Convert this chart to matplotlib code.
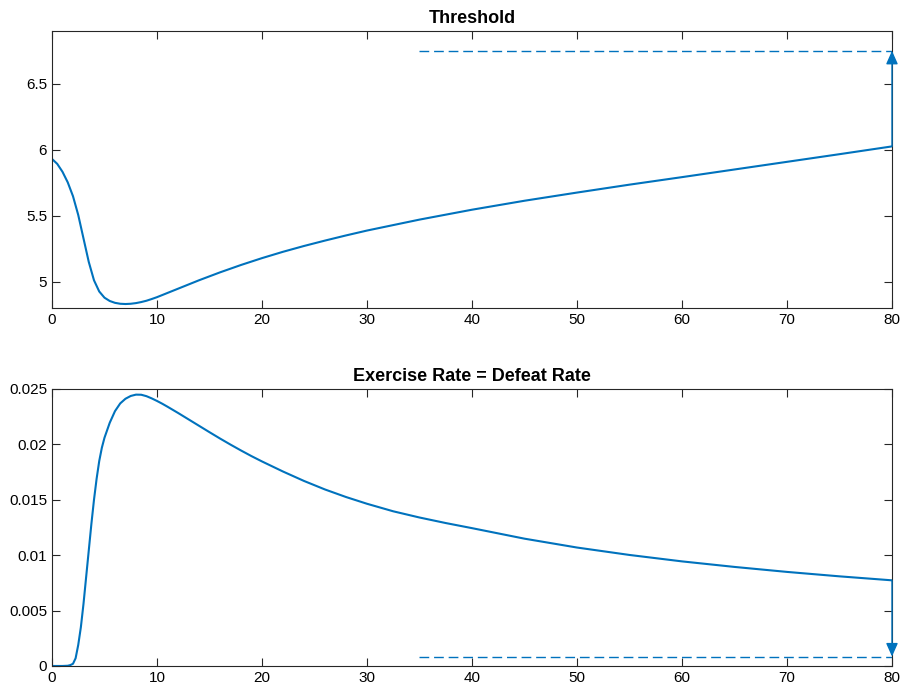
import matplotlib
matplotlib.use("Agg")
import matplotlib.pyplot as plt
from matplotlib.ticker import FuncFormatter

# values
t_thr = [0, 0.5, 1.0, 1.5, 2.0, 2.5, 3.0, 3.5, 4.0, 4.5, 5.0, 5.5, 6.0, 6.5,
         7.0, 7.5, 8.0, 8.5, 9.0, 9.5, 10, 12, 14, 16, 18, 20, 22, 24, 26, 28,
         30, 35, 40, 45, 50, 55, 60, 65, 70, 75, 80]
threshold = [5.93, 5.8925, 5.8325, 5.7525, 5.6475, 5.505, 5.3275, 5.15, 5.01,
             4.925, 4.878, 4.853, 4.839, 4.832, 4.830, 4.832, 4.837, 4.845,
             4.855, 4.868, 4.882, 4.946, 5.01, 5.07, 5.126, 5.178, 5.226,
             5.27, 5.311, 5.35, 5.387, 5.47, 5.545, 5.613, 5.675, 5.735,
             5.792, 5.85, 5.908, 5.966, 6.025]

t_rate = [0, 0.5, 1.0, 1.5, 1.75, 2.0, 2.25, 2.5, 2.75, 3.0, 3.25, 3.5, 3.75,
          4.0, 4.25, 4.5, 4.75, 5.0, 5.5, 6.0, 6.5, 7.0, 7.5, 8.0, 8.5, 9.0,
          9.5, 10, 10.5, 11, 12, 13, 14, 15, 16, 17, 18, 19, 20, 22, 24, 26,
          28, 30, 32.5, 35, 37.5, 40, 45, 50, 55, 60, 65, 70, 75, 80]
rate = [0, 0, 0, 0.00002, 0.00008, 0.0002, 0.0007, 0.0019, 0.0035, 0.0056,
        0.0080, 0.0104, 0.0128, 0.0150, 0.0169, 0.0185, 0.0197, 0.0206,
        0.02195, 0.0230, 0.0237, 0.02412, 0.02437, 0.02449, 0.02448, 0.02435,
        0.02415, 0.02392, 0.02367, 0.0234, 0.02284, 0.02226, 0.02168, 0.0211,
        0.02053, 0.01998, 0.01945, 0.01894, 0.01846, 0.01755, 0.0167,
        0.01593, 0.01525, 0.01464, 0.01396, 0.0134, 0.0129, 0.01244, 0.01149,
        0.01069, 0.01002, 0.00944, 0.00894, 0.00849, 0.00809, 0.00773]

thr_level = 6.75
rate_level = 0.00085
level_start = 35

blue = "#0072BD"
axcol = "#262626"

plt.rcParams["font.family"] = ["Liberation Sans", "DejaVu Sans"]
plt.rcParams["font.size"] = 11

fig = plt.figure(figsize=(9.01, 6.87), dpi=100)
ax1 = fig.add_axes([0.0577, 0.5517, 0.9323, 0.4032])
ax2 = fig.add_axes([0.0577, 0.0306, 0.9323, 0.4032])


def style(ax):
    for s in ax.spines.values():
        s.set_color(axcol)
        s.set_linewidth(0.8)
    ax.tick_params(direction="in", length=5.5, width=0.8, color=axcol,
                   top=True, right=True, labelcolor="black", pad=3.5,
                   labelsize=11)
    ax.set_xlim(0, 80)
    ax.set_xticks(range(0, 81, 10))


# Threshold
ax1.plot(t_thr, threshold, color=blue, lw=1.5)
ax1.plot([level_start, 80], [thr_level, thr_level], color=blue, lw=1,
         dashes=(7, 3.5))
ax1.annotate("", xy=(80, thr_level), xytext=(80, threshold[-1]),
             arrowprops=dict(arrowstyle="-|>,head_length=0.45,head_width=0.2",
                             color=blue, lw=1, mutation_scale=18,
                             shrinkA=0, shrinkB=0),
             annotation_clip=False)
style(ax1)
ax1.set_ylim(4.8, 6.9)
ax1.set_yticks([5, 5.5, 6, 6.5])
ax1.yaxis.set_major_formatter(FuncFormatter(lambda v, p: "%g" % v))
ax1.set_title("Threshold", fontweight="bold", fontsize=13, pad=6)

# Exercise rate
ax2.plot(t_rate, rate, color=blue, lw=1.5)
ax2.plot([level_start, 80], [rate_level, rate_level], color=blue, lw=1,
         dashes=(7, 3.5))
ax2.annotate("", xy=(80, rate_level), xytext=(80, rate[-1]),
             arrowprops=dict(arrowstyle="-|>,head_length=0.45,head_width=0.2",
                             color=blue, lw=1, mutation_scale=18,
                             shrinkA=0, shrinkB=0),
             annotation_clip=False)
style(ax2)
ax2.set_ylim(0, 0.025)
ax2.set_yticks([0, 0.005, 0.01, 0.015, 0.02, 0.025])
ax2.yaxis.set_major_formatter(FuncFormatter(lambda v, p: "%g" % round(v, 4)))
ax2.set_title("Exercise Rate = Defeat Rate", fontweight="bold", fontsize=13,
              pad=6)

fig.savefig("out.png", dpi=100)
